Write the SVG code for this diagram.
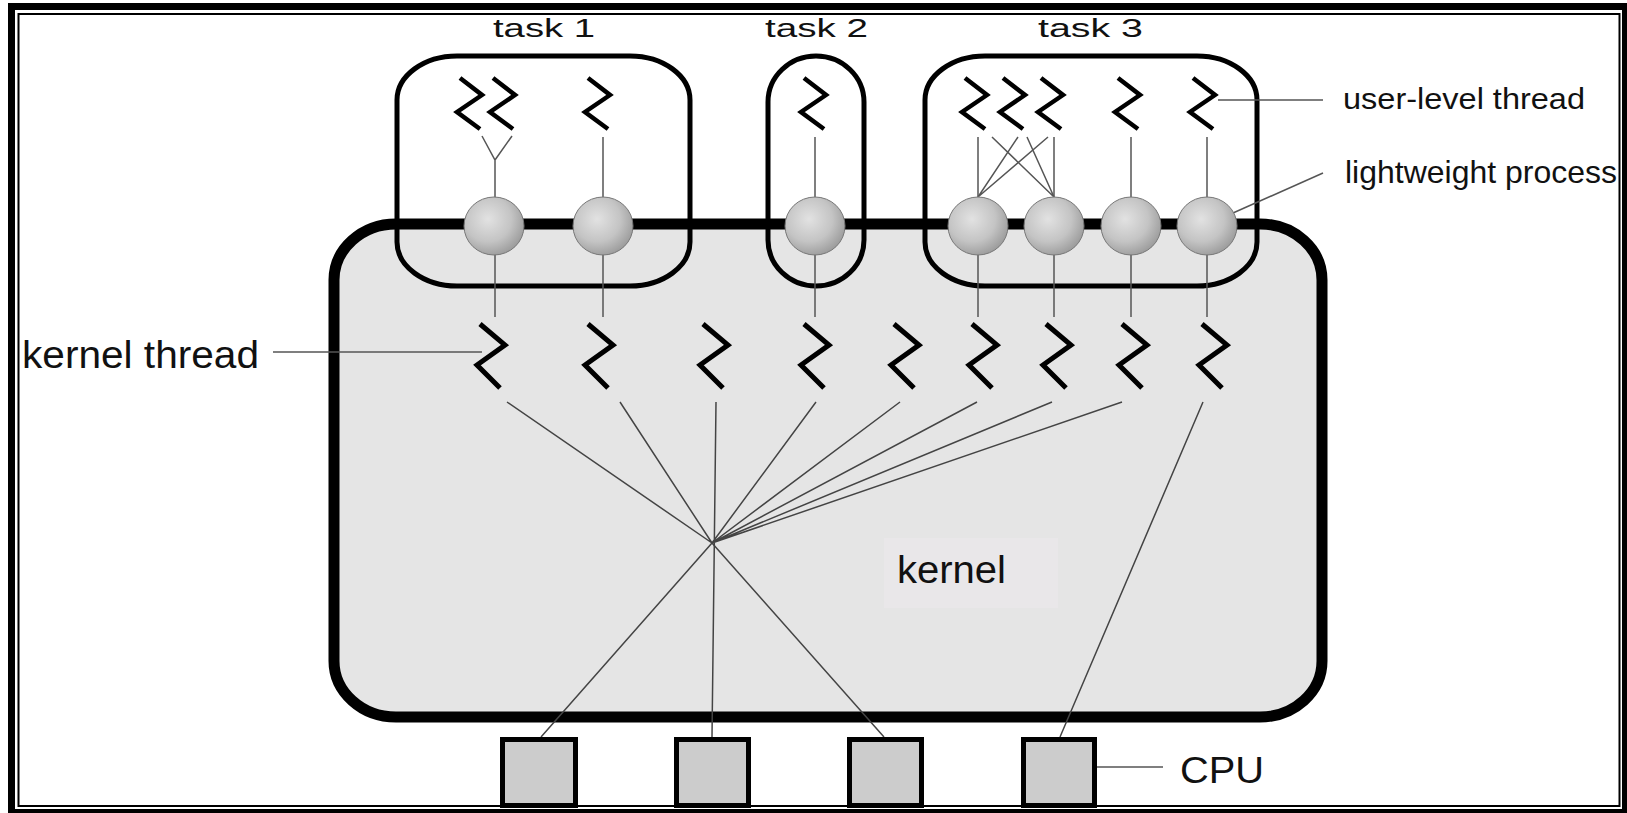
<svg xmlns="http://www.w3.org/2000/svg" xmlns:xlink="http://www.w3.org/1999/xlink" width="1627" height="813" viewBox="0 0 1627 813">
  <defs>
    <radialGradient id="lwpShade" cx="0.4" cy="0.38" r="0.65">
      <stop offset="0" stop-color="#e2e2e2"/>
      <stop offset="0.6" stop-color="#c4c4c4"/>
      <stop offset="1" stop-color="#9c9c9c"/>
    </radialGradient>
    <!-- zigzag glyphs for threads -->
    <path id="userThread" d="M0,0 L22,17 L-3,34 L20,51"/>
    <path id="kernelThread" d="M0,0 L25,21 L-3,41 L20,64"/>
  </defs>
  <style>
    .frameOuter { fill: none; stroke: #000; stroke-width: 7; }
    .frameInner { fill: none; stroke: #000; stroke-width: 2; }
    .kernel { fill: #e5e5e5; stroke: #000; stroke-width: 11; }
    .task { fill: none; stroke: #000; stroke-width: 5; }
    .lwp { fill: url(#lwpShade); stroke: #777; stroke-width: 1; }
    .ut { fill: none; stroke: #000; stroke-width: 4.5; stroke-linejoin: miter; }
    .kt { fill: none; stroke: #000; stroke-width: 5; stroke-linejoin: miter; }
    .link { fill: none; stroke: #555; stroke-width: 1.5; }
    .fan { fill: none; stroke: #444; stroke-width: 1.5; }
    .cpu { fill: #cccccc; stroke: #000; stroke-width: 5; }
    .lbl { font-family: "Liberation Sans", Arial, Helvetica, sans-serif; fill: #111; }
  </style>

  <rect x="0" y="0" width="1627" height="813" fill="#fff"/>

  <!-- double frame -->
  <g id="frame">
    <rect class="frameOuter" x="11.5" y="6.5" width="1614" height="806"/>
    <rect class="frameInner" x="18.5" y="14" width="1601" height="792"/>
  </g>

  <!-- kernel -->
  <g id="kernel">
    <rect class="kernel" x="334" y="224" width="988" height="493" rx="62" ry="56"/>
    <rect x="884" y="538" width="174" height="70" fill="#e9e7e9"/>
    <text class="lbl" x="897" y="583" font-size="38" textLength="109" lengthAdjust="spacingAndGlyphs">kernel</text>
  </g>

  <!-- tasks -->
  <g id="task1">
    <rect class="task" x="397" y="56" width="293" height="230" rx="60" ry="44"/>
    <text class="lbl" x="493" y="37" font-size="26" textLength="102" lengthAdjust="spacingAndGlyphs">task 1</text>
  </g>
  <g id="task2">
    <rect class="task" x="768" y="56" width="96" height="230" rx="48" ry="46"/>
    <text class="lbl" x="765" y="37" font-size="26" textLength="103" lengthAdjust="spacingAndGlyphs">task 2</text>
  </g>
  <g id="task3">
    <rect class="task" x="925" y="56" width="332" height="230" rx="60" ry="44"/>
    <text class="lbl" x="1038" y="37" font-size="26" textLength="105" lengthAdjust="spacingAndGlyphs">task 3</text>
  </g>

  <!-- connectors -->
  <g id="connectors">
    <!-- user threads to lightweight processes -->
    <path class="link" d="M482,136 L495,160 L512,136 M495,160 L495,317"/>
    <path class="link" d="M603,137 V317"/>
    <path class="link" d="M815,137 V317"/>
    <path class="link" d="M978,137 V317 M1054,137 V317 M1131,137 V317 M1207,137 V317"/>
    <path class="link" d="M978,197 L1018,137 M978,197 L1048,137 M1054,197 L992,137 M1054,197 L1027,137"/>
    <!-- kernel threads to CPUs -->
    <path class="fan" d="M507,402 L712,543 M620,402 L712,543 M716,402 L712,737 M816,402 L712,543 M900,402 L712,543 M977,402 L712,543 M1052,402 L712,543 M1122,402 L712,543"/>
    <path class="fan" d="M712,543 L541,737 M712,543 L884,737 M1203,402 L1060,737"/>
    <!-- label leaders -->
    <path class="link" d="M273,352 H482"/>
    <path class="link" d="M1218,100 H1323"/>
    <path class="link" d="M1215,221 L1323,173"/>
    <path class="link" d="M1072,767 H1163"/>
  </g>

  <!-- lightweight processes -->
  <g id="lwps">
    <ellipse class="lwp" cx="494" cy="226" rx="30" ry="29"/>
    <ellipse class="lwp" cx="603" cy="226" rx="30" ry="29"/>
    <ellipse class="lwp" cx="815" cy="226" rx="30" ry="29"/>
    <ellipse class="lwp" cx="978" cy="226" rx="30" ry="29"/>
    <ellipse class="lwp" cx="1054" cy="226" rx="30" ry="29"/>
    <ellipse class="lwp" cx="1131" cy="226" rx="30" ry="29"/>
    <ellipse class="lwp" cx="1207" cy="226" rx="30" ry="29"/>
  </g>

  <!-- user-level threads -->
  <g id="userThreads" class="ut">
    <use xlink:href="#userThread" x="460" y="78"/>
    <use xlink:href="#userThread" x="493" y="78"/>
    <use xlink:href="#userThread" x="588" y="78"/>
    <use xlink:href="#userThread" x="804" y="78"/>
    <use xlink:href="#userThread" x="965" y="78"/>
    <use xlink:href="#userThread" x="1003" y="78"/>
    <use xlink:href="#userThread" x="1041" y="78"/>
    <use xlink:href="#userThread" x="1118" y="78"/>
    <use xlink:href="#userThread" x="1193" y="78"/>
  </g>

  <!-- kernel threads -->
  <g id="kernelThreads" class="kt">
    <use xlink:href="#kernelThread" x="480" y="324"/>
    <use xlink:href="#kernelThread" x="588" y="324"/>
    <use xlink:href="#kernelThread" x="703" y="324"/>
    <use xlink:href="#kernelThread" x="804" y="324"/>
    <use xlink:href="#kernelThread" x="894" y="324"/>
    <use xlink:href="#kernelThread" x="972" y="324"/>
    <use xlink:href="#kernelThread" x="1046" y="324"/>
    <use xlink:href="#kernelThread" x="1122" y="324"/>
    <use xlink:href="#kernelThread" x="1202" y="324"/>
  </g>

  <!-- processors -->
  <g id="cpus">
    <rect class="cpu" x="502.5" y="739.5" width="73" height="66"/>
    <rect class="cpu" x="676.5" y="739.5" width="72" height="66"/>
    <rect class="cpu" x="849.5" y="739.5" width="72" height="66"/>
    <rect class="cpu" x="1023.5" y="739.5" width="71" height="66"/>
  </g>

  <!-- side labels -->
  <g id="labels">
    <text class="lbl" x="22" y="368" font-size="38" textLength="237" lengthAdjust="spacingAndGlyphs">kernel thread</text>
    <text class="lbl" x="1343" y="109" font-size="29" textLength="242" lengthAdjust="spacingAndGlyphs">user-level thread</text>
    <text class="lbl" x="1345" y="183" font-size="32" textLength="272" lengthAdjust="spacingAndGlyphs">lightweight process</text>
    <text class="lbl" x="1180" y="783" font-size="36" textLength="84" lengthAdjust="spacingAndGlyphs">CPU</text>
  </g>
</svg>
